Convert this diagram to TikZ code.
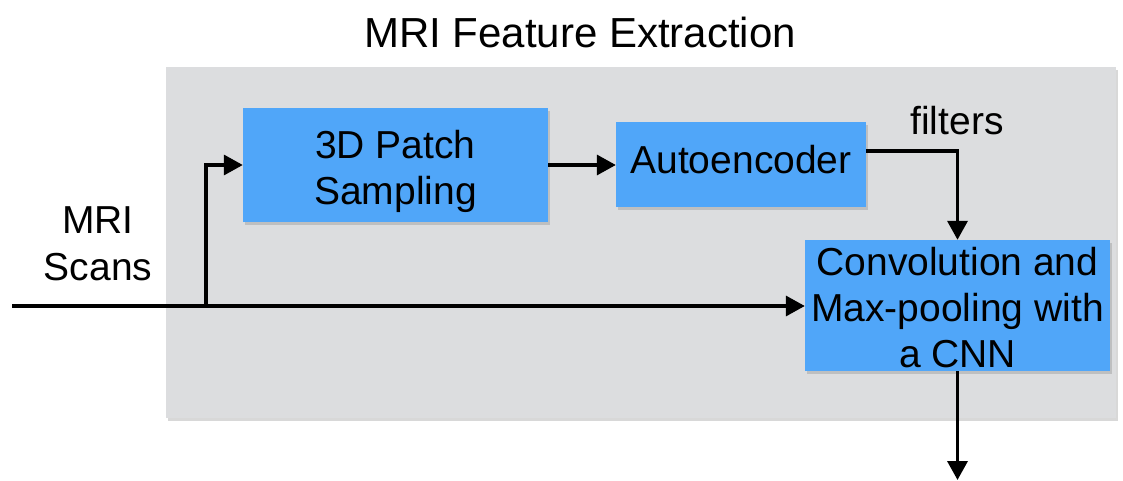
\documentclass[tikz,border=0pt]{standalone}
\usepackage{fontspec}
\setmainfont{Liberation Sans}
\usetikzlibrary{arrows.meta,shadows}
\definecolor{panelgray}{HTML}{DCDDDF}
\definecolor{boxblue}{HTML}{50A6F9}
\tikzset{
  blockbox/.style={fill=boxblue, draw=none, align=center, inner sep=0pt,
    font=\fontsize{39}{46}\selectfont,
    drop shadow={shadow xshift=2pt, shadow yshift=-3pt, opacity=0.25, fill=black!60}},
  flow/.style={line width=3.5pt, -{Triangle[length=19pt,width=20pt]}},
  label/.style={align=center, font=\fontsize{39}{47}\selectfont, inner sep=0pt}
}
\begin{document}
\begin{tikzpicture}[x=1pt,y=-1pt]
\useasboundingbox (0,0) rectangle (1123,481);
\fill[white] (0,0) rectangle (1123,481);

% grey module panel
\node[fill=panelgray, minimum width=950pt, minimum height=351pt, inner sep=0pt,
  drop shadow={shadow xshift=2pt, shadow yshift=-3pt, opacity=0.25, fill=black!60}]
  (panel) at (641,242.5) {};

\node[label, anchor=base, font=\fontsize{42}{50}\selectfont] (title) at (580,48) {MRI Feature Extraction};

% processing blocks (struts nudge the text baselines)
\node[blockbox, minimum width=305pt, minimum height=114pt] (patch) at (395.5,165)
  {\rule{0pt}{41pt}3D Patch\\Sampling};
\node[blockbox, minimum width=250pt, minimum height=85pt] (auto) at (741,164.5)
  {\rule[-10pt]{0pt}{10pt}Autoencoder};
\node[blockbox, minimum width=305pt, minimum height=131pt] (conv) at (957.5,305.5)
  {\rule{0pt}{32pt}Convolution and\\Max-pooling with\\a CNN};

% labels
\node[label, anchor=base] (scans) at (98,280) {MRI\\Scans};
\node[label, anchor=base] (filt) at (957,135) {filters};

% connectors
\coordinate (in) at (12,306);
\coordinate (br) at (206,306);
\coordinate (fk) at (957.5,151);
\coordinate (out) at (957.5,480);

\draw[flow] (in) -- (conv.west |- in);
\draw[flow] (br) |- (patch.west);
\draw[flow] (patch.east) -- (auto.west |- patch.east);
\draw[flow] (fk -| auto.east) -- (fk) -- (conv.north);
\draw[flow] (conv.south) -- (out);
\end{tikzpicture}
\end{document}
